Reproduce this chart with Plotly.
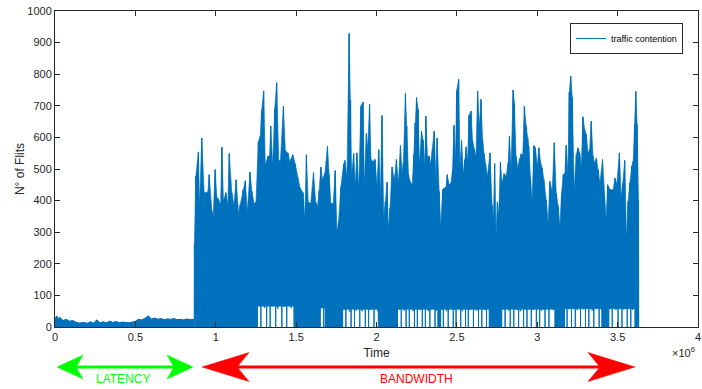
import plotly.graph_objects as go

SCALE = 1e6  # x values below are read in units of 10^6

# ---- latency phase (top of the dense signal) ----
lat_t = [0.00, 0.01, 0.02, 0.03, 0.05, 0.07, 0.09, 0.11, 0.13, 0.15, 0.18, 0.20, 0.22, 0.24,
         0.26, 0.28, 0.30, 0.32, 0.34, 0.36, 0.38, 0.40, 0.42, 0.44, 0.46, 0.48, 0.50, 0.52,
         0.54, 0.56, 0.58, 0.60, 0.62, 0.64, 0.66, 0.68, 0.70, 0.72, 0.74, 0.76, 0.78, 0.80,
         0.82, 0.84, 0.866]
lat_top = [22, 35, 25, 30, 20, 24, 18, 20, 15, 12, 14, 11, 16, 12,
           22, 13, 16, 13, 18, 14, 17, 13, 15, 14, 13, 15, 18, 24,
           22, 27, 35, 25, 28, 24, 26, 23, 25, 24, 26, 23, 24, 22,
           25, 23, 24]

# ---- bandwidth phase: spike times, spike peaks, trough after each spike ----
bw_t = [
    0.867, 0.876, 0.892, 0.899, 0.913, 0.928, 0.938, 0.951, 0.959, 0.976,
    0.984, 0.996, 1.007, 1.017, 1.030, 1.038, 1.048, 1.063, 1.075, 1.084,
    1.100, 1.113, 1.127, 1.142, 1.152, 1.169, 1.184, 1.196, 1.213, 1.225,
    1.238, 1.250, 1.265, 1.277, 1.285, 1.298, 1.308, 1.325, 1.335, 1.342,
    1.354, 1.367, 1.379, 1.392, 1.402, 1.421, 1.433, 1.450, 1.460, 1.479,
    1.496, 1.510, 1.525, 1.543,
    1.554, 1.564, 1.575, 1.591, 1.608, 1.622, 1.633, 1.643, 1.654, 1.664,
    1.679, 1.695, 1.704, 1.716, 1.731, 1.743, 1.754, 1.764, 1.778, 1.795,
    1.803, 1.816, 1.830, 1.839, 1.845, 1.858, 1.868, 1.878, 1.889, 1.903,
    1.916, 1.924, 1.937, 1.945, 1.957, 1.966, 1.978, 1.991, 2.003, 2.014,
    2.024, 2.034, 2.045, 2.055, 2.066, 2.074, 2.084, 2.097, 2.111, 2.124,
    2.136, 2.149, 2.159, 2.167, 2.180, 2.188, 2.199, 2.209, 2.222, 2.232,
    2.240,
    2.249, 2.259, 2.267, 2.280, 2.290, 2.301, 2.307, 2.317, 2.328, 2.336,
    2.348, 2.359, 2.369, 2.377, 2.390, 2.400, 2.411, 2.421, 2.432, 2.440,
    2.452, 2.463, 2.473, 2.482, 2.492, 2.498, 2.511, 2.519, 2.529, 2.540,
    2.550, 2.558, 2.567, 2.575, 2.588, 2.598, 2.608, 2.619, 2.629, 2.640,
    2.650, 2.660, 2.669, 2.679, 2.690, 2.706, 2.719, 2.727, 2.735, 2.744,
    2.752, 2.760, 2.771, 2.781, 2.794, 2.806, 2.819, 2.827, 2.837, 2.850,
    2.858, 2.868, 2.879, 2.889, 2.900, 2.910, 2.920, 2.931, 2.941,
    2.947, 2.958, 2.968, 2.979, 2.989, 3.000, 3.010, 3.020, 3.031, 3.041,
    3.056, 3.068, 3.078, 3.093, 3.106, 3.118, 3.131, 3.141, 3.151, 3.162,
    3.172, 3.180, 3.191, 3.199, 3.208, 3.218, 3.230, 3.243, 3.253, 3.264,
    3.274, 3.284, 3.295, 3.305, 3.316, 3.326, 3.336, 3.347, 3.357, 3.368,
    3.380, 3.390, 3.406, 3.418, 3.428, 3.438, 3.451, 3.461, 3.472, 3.484,
    3.495, 3.511, 3.522, 3.532, 3.544, 3.555, 3.565, 3.576, 3.588, 3.597,
    3.605, 3.613, 3.621, 3.630]

bw_peak = [
    260, 477, 554, 387, 598, 425, 425, 428, 482, 368,
    347, 498, 410, 405, 387, 569, 400, 425, 385, 549,
    425, 387, 466, 360, 387, 434, 463, 365, 490, 429,
    392, 394, 586, 604, 683, 747, 514, 540, 542, 636,
    510, 692, 773, 528, 525, 699, 558, 550, 524, 545,
    514, 475, 440, 425,
    344, 545, 395, 392, 489, 395, 382, 431, 506, 466,
    487, 572, 482, 392, 390, 495, 302, 333, 443, 514,
    527, 479, 929, 718, 482, 549, 450, 551, 440, 699,
    712, 450, 612, 567, 704, 530, 524, 530, 450, 561,
    418, 669, 350, 397, 458, 312, 376, 506, 466, 530,
    456, 574, 487, 519, 739, 636, 482, 461, 450, 545,
    646,
    726, 689, 514, 620, 591, 517, 667, 540, 540, 514,
    561, 620, 477, 598, 429, 318, 434, 440, 442, 482,
    450, 456, 498, 638, 530, 747, 784, 509, 590, 487,
    530, 570, 524, 669, 683, 588, 564, 540, 747, 636,
    720, 593, 549, 514, 477, 551, 386, 344, 517, 286,
    395, 353, 522, 456, 485, 477, 519, 604, 503, 750,
    708, 540, 503, 530, 548, 545, 699, 636, 598,
    572, 471, 402, 574, 567, 508, 567, 524, 503, 466,
    402, 330, 461, 429, 583, 424, 381, 318, 422, 482,
    487, 575, 487, 742, 794, 726, 434, 545, 567, 551,
    508, 665, 625, 609, 551, 561, 651, 540, 519, 535,
    498, 456, 530, 413, 344, 450, 436, 434, 434, 471,
    452, 551, 413, 456, 527, 281, 397, 456, 509, 525,
    641, 745, 641, 400]

bw_low = [
    0, 0, 0, 0, 0, 0, 0, 0, 0, 0,
    0, 0, 0, 0, 0, 0, 0, 0, 0, 0,
    0, 0, 0, 0, 0, 0, 0, 0, 0, 0,
    0, 0, 68, 0, 74, 60, 0, 70, 0, 66,
    72, 0, 58, 70, 0, 64, 0, 72, 60, 0,
    0, 0, 0, 0,
    0, 0, 0, 0, 0, 0, 0, 0, 62, 0,
    0, 0, 0, 0, 0, 0, 0, 0, 0, 55,
    0, 60, 48, 0, 58, 0, 52, 62, 0, 50,
    56, 0, 60, 0, 54, 58, 0, 62, 50, 0,
    0, 0, 0, 0, 0, 0, 0, 0, 0, 0,
    56, 0, 60, 52, 0, 58, 0, 62, 50, 0,
    56,
    0, 60, 54, 0, 58, 0, 62, 50, 0, 56,
    60, 0, 52, 58, 0, 55, 0, 60, 50, 0,
    58, 62, 0, 54, 0, 60, 56, 0, 50, 62,
    0, 58, 0, 54, 60, 0, 56, 52, 0, 60,
    0, 58, 54, 0, 62, 0, 0, 0, 0, 0,
    0, 0, 0, 56, 0, 60, 52, 0, 58, 0,
    62, 54, 0, 50, 60, 0, 56, 0, 58,
    60, 0, 54, 58, 0, 62, 0, 52, 56, 0,
    60, 0, 58, 54, 0, 0, 0, 0, 0, 0,
    60, 0, 56, 62, 0, 58, 0, 54, 60, 0,
    62, 56, 0, 58, 0, 60, 52, 0, 58, 62,
    0, 56, 0, 0, 0, 0, 58, 0, 62, 54,
    0, 60, 0, 56, 58, 0, 62, 0, 54, 60,
    0, 0, 0, 0]

# stretches where the signal rarely drops below a floor level
gap_start = [1.26, 1.65, 1.79, 2.13, 2.40, 2.78, 3.17, 3.44]
gap_end = [1.49, 1.68, 2.01, 2.38, 2.70, 3.11, 3.40, 3.61]
gap_floor = [66, 60, 56, 56, 56, 56, 58, 58]

x_ticks = [0, 0.5, 1, 1.5, 2, 2.5, 3, 3.5, 4]
x_tick_text = ["0", "0.5", "1", "1.5", "2", "2.5", "3", "3.5", "4"]
y_ticks = [0, 100, 200, 300, 400, 500, 600, 700, 800, 900, 1000]

BLUE = "#0072BD"
AX = "#262626"
FONT = "Liberation Sans, Arial, Helvetica, sans-serif"

# ---- the signal line: latency top, then zig-zag spikes / troughs ----
line_x, line_y = [], []
for t, v in zip(lat_t, lat_top):
    line_x.append(t * SCALE)
    line_y.append(v)
n = len(bw_t)
for i in range(n):
    line_x.append(bw_t[i] * SCALE)
    line_y.append(bw_peak[i])
    nxt = bw_t[i + 1] if i + 1 < n else bw_t[i] + 0.002
    line_x.append((bw_t[i] + nxt) / 2 * SCALE)
    line_y.append(bw_low[i])

# dense body of the band: area under the spike envelope, above 0 or the gap floor
bottom = [(bw_t[0], 0)]
for gs, ge, gf in zip(gap_start, gap_end, gap_floor):
    bottom += [(gs, 0), (gs, gf), (ge, gf), (ge, 0)]
bottom.append((bw_t[-1], 0))
poly_x = [t * SCALE for t in bw_t] + [p[0] * SCALE for p in reversed(bottom)]
poly_y = list(bw_peak) + [p[1] for p in reversed(bottom)]

fig = go.Figure()
fig.add_trace(go.Scatter(x=[t * SCALE for t in lat_t], y=lat_top, mode="lines",
                         fill="tozeroy", fillcolor=BLUE, line=dict(color=BLUE, width=1),
                         showlegend=False, hoverinfo="skip"))
fig.add_trace(go.Scatter(x=poly_x, y=poly_y, mode="lines", fill="toself", fillcolor=BLUE,
                         line=dict(color=BLUE, width=0.6), showlegend=False, hoverinfo="skip"))
fig.add_trace(go.Scatter(x=line_x, y=line_y, mode="lines", name="traffic contention",
                         line=dict(color=BLUE, width=1)))

# ---- pixel helpers for the annotation arrows below the axes ----
L, R, T, B = 55, 698, 11, 327
W, H = R - L, B - T


def px(x):
    return (x - L) / W


def py(y):
    return (B - y) / H


def head(tip, back, notch, yc, half):
    return (f"M {px(tip)},{py(yc)} L {px(back)},{py(yc - half)} "
            f"L {px(notch)},{py(yc)} L {px(back)},{py(yc + half)} Z")


GREEN = "#00FF00"
RED = "#FF0000"
shapes = [
    dict(type="line", xref="paper", yref="paper", x0=px(75), x1=px(175), y0=py(367), y1=py(367),
         line=dict(color=GREEN, width=3)),
    dict(type="path", xref="paper", yref="paper", path=head(57, 83, 76, 367, 12),
         fillcolor=GREEN, line=dict(color=GREEN, width=0.5)),
    dict(type="path", xref="paper", yref="paper", path=head(193, 167, 174, 367, 12),
         fillcolor=GREEN, line=dict(color=GREEN, width=0.5)),
    dict(type="line", xref="paper", yref="paper", x0=px(236), x1=px(601), y0=py(367), y1=py(367),
         line=dict(color=RED, width=3)),
    dict(type="path", xref="paper", yref="paper", path=head(202, 249, 237, 367, 14.5),
         fillcolor=RED, line=dict(color=RED, width=0.5)),
    dict(type="path", xref="paper", yref="paper", path=head(635, 588, 600, 367, 14.5),
         fillcolor=RED, line=dict(color=RED, width=0.5)),
]

annotations = [
    dict(text="×10<sup>6</sup>", xref="paper", yref="paper", x=px(697), y=py(352),
         xanchor="right", yanchor="middle", showarrow=False,
         font=dict(size=11, color=AX, family=FONT)),
    dict(text="LATENCY", xref="paper", yref="paper", x=px(123), y=py(379),
         xanchor="center", yanchor="middle", showarrow=False,
         font=dict(size=12, color=GREEN, family=FONT)),
    dict(text="BANDWIDTH", xref="paper", yref="paper", x=px(416), y=py(379),
         xanchor="center", yanchor="middle", showarrow=False,
         font=dict(size=12, color=RED, family=FONT)),
]

axis_common = dict(showline=True, linecolor=AX, linewidth=1, mirror="ticks", ticks="inside",
                   ticklen=5, tickcolor=AX, showgrid=False, zeroline=False, automargin=False,
                   tickfont=dict(size=11, color=AX, family=FONT))

fig.update_layout(
    width=702, height=389,
    margin=dict(l=L, r=702 - R, t=T, b=389 - B),
    paper_bgcolor="white", plot_bgcolor="white",
    font=dict(family=FONT, color=AX),
    xaxis=dict(range=[0, 4 * SCALE], tickvals=[v * SCALE for v in x_ticks], ticktext=x_tick_text,
               title=dict(text="Time", font=dict(size=12, color=AX), standoff=6),
               **axis_common),
    yaxis=dict(range=[0, 1000], tickvals=y_ticks,
               title=dict(text="N° of Flits", font=dict(size=12, color=AX), standoff=0),
               **axis_common),
    legend=dict(x=px(683), y=py(23), xanchor="right", yanchor="top", bgcolor="white",
                bordercolor=AX, borderwidth=1, font=dict(size=9, color="#000000", family=FONT),
                itemwidth=30, tracegroupgap=0),
    shapes=shapes,
    annotations=annotations,
    showlegend=True,
)

fig.write_html("out.html", config={"displayModeBar": False},
               post_script="document.body.style.margin='0';")
